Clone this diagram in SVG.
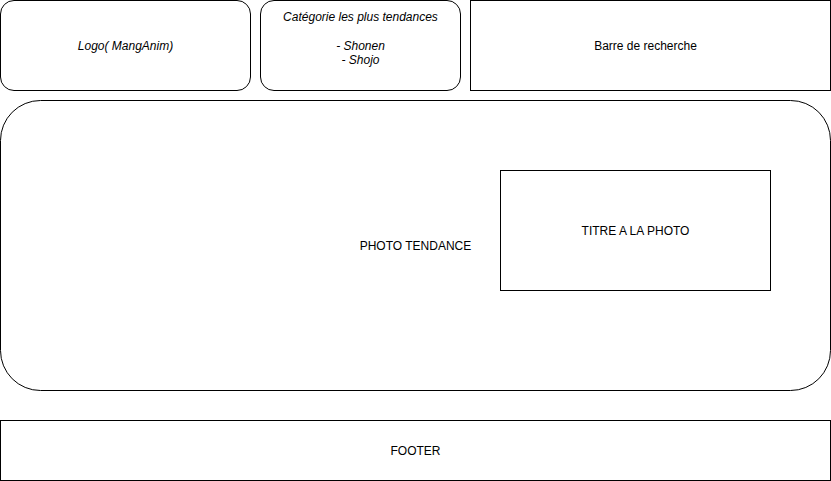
<svg xmlns="http://www.w3.org/2000/svg" width="831" height="481" viewBox="0 0 831 481">
<style>
.box{fill:#fff;stroke:#000;stroke-width:1}
text{font-family:"Liberation Sans",Arial,sans-serif;font-size:12px;fill:#000;text-anchor:middle}
.it{font-style:italic}
</style>
<rect width="831" height="481" fill="#fff"/>
<g id="logo"><rect class="box" x="0.5" y="0.5" width="250" height="90" rx="13.5"/><text class="it" x="125.5" y="49.5">Logo( MangAnim)</text></g>
<g id="categories"><rect class="box" x="260.5" y="0.5" width="200" height="90" rx="13.5"/><text class="it" x="360.5" y="20.5">Catégorie les plus tendances</text><text class="it" x="360.5" y="49.5">- Shonen</text><text class="it" x="360.5" y="63.5">- Shojo</text></g>
<g id="search"><rect class="box" x="470.5" y="0.5" width="360" height="90"/><text x="645.5" y="49.5">Barre de recherche</text></g>
<g id="photo"><rect class="box" x="0.5" y="100.5" width="830" height="290" rx="40"/><text x="415.5" y="249.5">PHOTO TENDANCE</text></g>
<g id="titre"><rect class="box" x="500.5" y="170.5" width="270" height="120"/><text x="635.5" y="234.5">TITRE A LA PHOTO</text></g>
<g id="footer"><rect class="box" x="0.5" y="420.5" width="830" height="60"/><text x="415.5" y="454.5">FOOTER</text></g>
<g id="connectors"/>
</svg>
